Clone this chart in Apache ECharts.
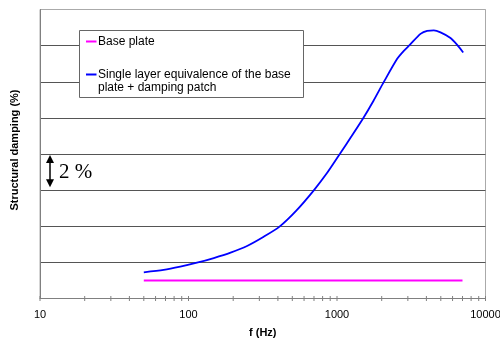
<!DOCTYPE html>
<html>
<head>
<meta charset="utf-8">
<script src="https://cdn.jsdelivr.net/npm/echarts@6/dist/echarts.min.js"></script>
<style>
  html, body { margin: 0; padding: 0; background: #fff; }
  #chart { width: 500px; height: 339px; }
</style>
</head>
<body>
<div id="chart"></div>
<script>
// frequency (Hz) / damping (%)
const basePlate = [[50, 1.0], [7000, 1.0]]
const singleLayer = [
  [50, 1.45], [68, 1.58], [88, 1.76], [114, 1.98], [148, 2.24], [192, 2.54],
  [248, 2.91], [321, 3.42], [410, 3.98], [534, 4.88], [698, 5.99], [854, 6.93],
  [1044, 8.0], [1252, 8.98], [1501, 9.98], [1762, 10.95], [2067, 11.99],
  [2543, 13.27], [2818, 13.71], [3092, 14.04], [3650, 14.65], [4045, 14.82],
  [4486, 14.84], [4977, 14.73], [5812, 14.42], [6448, 14.04], [7077, 13.62]
]
const xTicks = [
  10, 20, 30, 40, 50, 60, 70, 80, 90,
  100, 200, 300, 400, 500, 600, 700, 800, 900,
  1000, 2000, 3000, 4000, 5000, 6000, 7000, 8000, 9000, 10000
]
const yMin = 0
const yMax = 16
const yStep = 2

const chart = echarts.init(document.getElementById('chart'))

// split line colours: bottom, inner lines, top border
const splitColors = ['#808080', '#555', '#555', '#555', '#555', '#555', '#555', '#555', '#aaa']

const option = {
  animation: false,
  grid: {
    left: 40,
    right: 14.5,
    top: 9.5,
    bottom: 40.5,
    outerBoundsMode: 'none',
    containLabel: false,
    show: true,
    borderColor: '#aaa',
    borderWidth: 1
  },
  xAxis: {
    type: 'log',
    logBase: 10,
    min: 10,
    max: 10000,
    name: 'f (Hz)',
    nameLocation: 'middle',
    nameGap: 29,
    nameTextStyle: {
      fontFamily: 'Liberation Sans',
      fontWeight: 'bold',
      fontSize: 11,
      color: '#000'
    },
    axisLine: { lineStyle: { color: '#808080' } },
    axisTick: { show: false },
    axisLabel: {
      fontFamily: 'Liberation Sans',
      fontSize: 11,
      color: '#000',
      margin: 11,
      formatter: v => String(v)
    },
    splitLine: { show: false }
  },
  yAxis: {
    type: 'value',
    min: yMin,
    max: yMax,
    interval: yStep,
    name: 'Structural damping (%)',
    nameLocation: 'middle',
    nameGap: 20,
    nameTextStyle: {
      fontFamily: 'Liberation Sans',
      fontWeight: 'bold',
      fontSize: 11,
      color: '#000',
      padding: [0, 0, 0, 8]
    },
    axisLine: { show: true, lineStyle: { color: '#808080' } },
    axisTick: { show: false },
    axisLabel: { show: false },
    splitLine: { lineStyle: { color: splitColors, width: 1 } }
  },
  series: [
    {
      name: 'Base plate',
      type: 'line',
      data: basePlate,
      showSymbol: false,
      lineStyle: { color: '#ff00ff', width: 2 },
      z: 3
    },
    {
      name: 'Single layer equivalence of the base plate + damping patch',
      type: 'line',
      data: singleLayer,
      showSymbol: false,
      smooth: 0.25,
      lineStyle: { color: '#0000ff', width: 1.8 },
      z: 4
    },
    {
      // log axis ticks crossing the axis line
      type: 'custom',
      silent: true,
      clip: false,
      data: xTicks.map(v => [v, yMin]),
      renderItem: function (params, api) {
        const p = api.coord([api.value(0), api.value(1)])
        return {
          type: 'line',
          shape: { x1: p[0], y1: p[1] - 2.5, x2: p[0], y2: p[1] + 2.5 },
          style: { stroke: '#808080', lineWidth: 1 }
        }
      },
      z: 5
    }
  ]
}

chart.setOption(option)

// legend box + "2 %" scale arrow
const arrowTop = chart.convertToPixel({ xAxisIndex: 0, yAxisIndex: 0 }, [11.7, 8])
const arrowBot = chart.convertToPixel({ xAxisIndex: 0, yAxisIndex: 0 }, [11.7, 6])
const ax = Math.round(arrowTop[0])
const y1 = arrowTop[1] + 1
const y2 = arrowBot[1] - 3

chart.setOption({
  graphic: [
    {
      type: 'group',
      z: 100,
      children: [
        {
          type: 'rect',
          shape: { x: 79.5, y: 30.5, width: 224, height: 67 },
          style: { fill: '#fff', stroke: '#666', lineWidth: 1 }
        },
        {
          type: 'line',
          shape: { x1: 86, y1: 41.5, x2: 96.5, y2: 41.5 },
          style: { stroke: '#ff00ff', lineWidth: 2 }
        },
        {
          type: 'text',
          x: 98, y: 41.5,
          style: {
            text: 'Base plate',
            font: '12px "Liberation Sans"',
            fill: '#000',
            verticalAlign: 'middle'
          }
        },
        {
          type: 'line',
          shape: { x1: 86, y1: 74.5, x2: 96.5, y2: 74.5 },
          style: { stroke: '#0000ff', lineWidth: 2 }
        },
        {
          type: 'text',
          x: 98, y: 68.5,
          style: {
            text: 'Single layer equivalence of the base\nplate + damping patch',
            font: '12px "Liberation Sans"',
            lineHeight: 13,
            fill: '#000',
            verticalAlign: 'top'
          }
        },
        {
          type: 'line',
          shape: { x1: ax, y1: y1 + 7, x2: ax, y2: y2 - 7 },
          style: { stroke: '#000', lineWidth: 1.5 }
        },
        {
          type: 'polygon',
          shape: { points: [[ax, y1], [ax - 4, y1 + 8], [ax + 4, y1 + 8]] },
          style: { fill: '#000' }
        },
        {
          type: 'polygon',
          shape: { points: [[ax, y2], [ax - 4, y2 - 8], [ax + 4, y2 - 8]] },
          style: { fill: '#000' }
        },
        {
          type: 'text',
          x: 59, y: (y1 + y2) / 2 + 1,
          style: {
            text: '2 %',
            font: '21px "Liberation Serif"',
            fill: '#000',
            verticalAlign: 'middle'
          }
        }
      ]
    }
  ]
})
</script>
</body>
</html>
